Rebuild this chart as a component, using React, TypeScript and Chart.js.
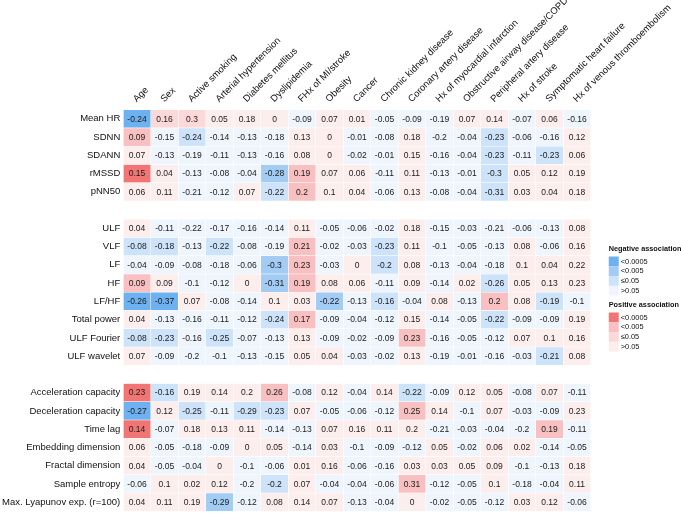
import { useEffect, useRef } from 'react';
import { Chart, registerables } from 'chart.js';
Chart.register(...registerables);

const FONT = 'Arial, "Liberation Sans", Helvetica, sans-serif';

const columns = [
  'Age', 'Sex', 'Active smoking', 'Arterial hypertension', 'Diabetes mellitus', 'Dyslipidemia',
  'FHx of MI/stroke', 'Obesity', 'Cancer', 'Chronic kidney disease', 'Coronary artery disease',
  'Hx of myocardial infarction', 'Obstructive airway disease/COPD', 'Peripheral artery disease',
  'Hx of stroke', 'Symptomatic heart failure', 'Hx of venous thromboembolism',
];

const rowLabels = [
  'Mean HR', 'SDNN', 'SDANN', 'rMSSD', 'pNN50', '',
  'ULF', 'VLF', 'LF', 'HF', 'LF/HF', 'Total power', 'ULF Fourier', 'ULF wavelet', '',
  'Acceleration capacity', 'Deceleration capacity', 'Time lag', 'Embedding dimension',
  'Fractal dimension', 'Sample entropy', 'Max. Lyapunov exp. (r=100)',
];

// correlation coefficients (one array per row)
const meanHR = [-0.24, 0.16, 0.3, 0.05, 0.18, 0, -0.09, 0.07, 0.01, -0.05, -0.09, -0.19, 0.07, 0.14, -0.07, 0.06, -0.16];
const sdnn = [0.09, -0.15, -0.24, -0.14, -0.13, -0.18, 0.13, 0, -0.01, -0.08, 0.18, -0.2, -0.04, -0.23, -0.06, -0.16, 0.12];
const sdann = [0.07, -0.13, -0.19, -0.11, -0.13, -0.16, 0.08, 0, -0.02, -0.01, 0.15, -0.16, -0.04, -0.23, -0.11, -0.23, 0.06];
const rmssd = [0.15, 0.04, -0.13, -0.08, -0.04, -0.28, 0.19, 0.07, 0.06, -0.11, 0.11, -0.13, -0.01, -0.3, 0.05, 0.12, 0.19];
const pnn50 = [0.06, 0.11, -0.21, -0.12, 0.07, -0.22, 0.2, 0.1, 0.04, -0.06, 0.13, -0.08, -0.04, -0.31, 0.03, 0.04, 0.18];
const ulf = [0.04, -0.11, -0.22, -0.17, -0.16, -0.14, 0.11, -0.05, -0.06, -0.02, 0.18, -0.15, -0.03, -0.21, -0.06, -0.13, 0.08];
const vlf = [-0.08, -0.18, -0.13, -0.22, -0.08, -0.19, 0.21, -0.02, -0.03, -0.23, 0.11, -0.1, -0.05, -0.13, 0.08, -0.06, 0.16];
const lf = [-0.04, -0.09, -0.08, -0.18, -0.06, -0.3, 0.23, -0.03, 0, -0.2, 0.08, -0.13, -0.04, -0.18, 0.1, 0.04, 0.22];
const hf = [0.09, 0.09, -0.1, -0.12, 0, -0.31, 0.19, 0.08, 0.06, -0.11, 0.09, -0.14, 0.02, -0.26, 0.05, 0.13, 0.23];
const lfhf = [-0.26, -0.37, 0.07, -0.08, -0.14, 0.1, 0.03, -0.22, -0.13, -0.16, -0.04, 0.08, -0.13, 0.2, 0.08, -0.19, -0.1];
const totalPower = [0.04, -0.13, -0.16, -0.11, -0.12, -0.24, 0.17, -0.09, -0.04, -0.12, 0.15, -0.14, -0.05, -0.22, -0.09, -0.09, 0.19];
const ulfFourier = [-0.08, -0.23, -0.16, -0.25, -0.07, -0.13, 0.13, -0.09, -0.02, -0.09, 0.23, -0.16, -0.05, -0.12, 0.07, 0.1, 0.16];
const ulfWavelet = [0.07, -0.09, -0.2, -0.1, -0.13, -0.15, 0.05, 0.04, -0.03, -0.02, 0.13, -0.19, -0.01, -0.16, -0.03, -0.21, 0.08];
const accCap = [0.23, -0.16, 0.19, 0.14, 0.2, 0.26, -0.08, 0.12, -0.04, 0.14, -0.22, -0.09, 0.12, 0.05, -0.08, 0.07, -0.11];
const decCap = [-0.27, 0.12, -0.25, -0.11, -0.29, -0.23, 0.07, -0.05, -0.06, -0.12, 0.25, 0.14, -0.1, 0.07, -0.03, -0.09, 0.23];
const timeLag = [0.14, -0.07, 0.18, 0.13, 0.11, -0.14, -0.13, 0.07, 0.16, 0.11, 0.2, -0.21, -0.03, -0.04, -0.2, 0.19, -0.11];
const embDim = [0.06, -0.05, -0.18, -0.09, 0, 0.05, -0.14, 0.03, -0.1, -0.09, -0.12, 0.05, -0.02, 0.06, 0.02, -0.14, -0.05];
const fracDim = [0.04, -0.05, -0.04, 0, -0.1, -0.06, 0.01, 0.16, -0.06, -0.16, 0.03, 0.03, 0.05, 0.09, -0.1, -0.13, 0.18];
const sampEn = [-0.06, 0.1, 0.02, 0.12, -0.2, -0.2, 0.07, -0.04, -0.04, -0.06, 0.31, -0.12, -0.05, 0.1, -0.18, -0.04, 0.11];
const maxLyap = [0.04, 0.11, 0.19, -0.29, -0.12, 0.08, 0.14, 0.07, -0.13, -0.04, 0, -0.02, -0.05, -0.12, 0.03, 0.12, -0.06];

// significance class: 0 = >0.05, 1 = <=0.05, 2 = <0.005, 3 = <0.0005
const sigMeanHR = [3, 1, 1, 0, 0, 0, 0, 0, 0, 0, 0, 0, 0, 0, 0, 0, 0];
const sigSdnn = [2, 0, 1, 0, 0, 0, 0, 0, 0, 0, 0, 0, 0, 1, 0, 0, 0];
const sigSdann = [0, 0, 0, 0, 0, 0, 0, 0, 0, 0, 0, 0, 0, 1, 0, 1, 0];
const sigRmssd = [3, 0, 0, 0, 0, 2, 2, 0, 0, 0, 0, 0, 0, 1, 0, 0, 0];
const sigPnn50 = [0, 0, 0, 0, 0, 1, 2, 0, 0, 0, 0, 0, 0, 1, 0, 0, 0];
const sigUlf = [0, 0, 0, 0, 0, 0, 0, 0, 0, 0, 0, 0, 0, 0, 0, 0, 0];
const sigVlf = [1, 1, 0, 1, 0, 0, 2, 0, 0, 1, 0, 0, 0, 0, 0, 0, 0];
const sigLf = [0, 0, 0, 0, 0, 2, 2, 0, 0, 1, 0, 0, 0, 0, 0, 0, 0];
const sigHf = [2, 0, 0, 0, 0, 2, 2, 0, 0, 0, 0, 0, 0, 1, 0, 0, 0];
const sigLfhf = [3, 3, 0, 0, 0, 0, 0, 2, 0, 1, 0, 0, 0, 2, 0, 1, 0];
const sigTotalPower = [0, 0, 0, 0, 0, 1, 2, 0, 0, 0, 0, 0, 0, 1, 0, 0, 0];
const sigUlfFourier = [1, 1, 0, 1, 0, 0, 0, 0, 0, 0, 2, 0, 0, 0, 0, 0, 0];
const sigUlfWavelet = [0, 0, 0, 0, 0, 0, 0, 0, 0, 0, 0, 0, 0, 0, 0, 1, 0];
const sigAccCap = [3, 1, 0, 0, 0, 2, 0, 0, 0, 0, 1, 0, 0, 0, 0, 0, 0];
const sigDecCap = [3, 0, 1, 0, 1, 1, 0, 0, 0, 0, 2, 0, 0, 0, 0, 0, 0];
const sigTimeLag = [3, 0, 0, 0, 0, 0, 0, 0, 0, 0, 0, 0, 0, 0, 0, 2, 0];
const sigEmbDim = [0, 0, 0, 0, 0, 0, 0, 0, 0, 0, 0, 0, 0, 0, 0, 0, 0];
const sigFracDim = [0, 0, 0, 0, 0, 0, 0, 0, 0, 0, 0, 0, 0, 0, 0, 0, 0];
const sigSampEn = [0, 0, 0, 0, 0, 1, 0, 0, 0, 0, 2, 0, 0, 0, 0, 0, 0];
const sigMaxLyap = [0, 0, 0, 2, 0, 0, 0, 0, 0, 0, 0, 0, 0, 0, 0, 0, 0];

const legendLabels = ['<0.0005', '<0.005', '\u22640.05', '>0.05'];

const BLUE = ['#eef5fd', '#cde3f9', '#a3ccf4', '#6eb1f0'];
const RED = ['#fdeeee', '#fcd8d8', '#f8c0c0', '#f27575'];

// rows in display order (null = spacer)
const rowValues: (number[] | null)[] = [
  meanHR, sdnn, sdann, rmssd, pnn50, null,
  ulf, vlf, lf, hf, lfhf, totalPower, ulfFourier, ulfWavelet, null,
  accCap, decCap, timeLag, embDim, fracDim, sampEn, maxLyap,
];
const rowSig: (number[] | null)[] = [
  sigMeanHR, sigSdnn, sigSdann, sigRmssd, sigPnn50, null,
  sigUlf, sigVlf, sigLf, sigHf, sigLfhf, sigTotalPower, sigUlfFourier, sigUlfWavelet, null,
  sigAccCap, sigDecCap, sigTimeLag, sigEmbDim, sigFracDim, sigSampEn, sigMaxLyap,
];

const cellColor = (v: number, s: number) => (v < 0 ? BLUE[s] : RED[s]);

const cellText = {
  id: 'cellText',
  afterDatasetsDraw(chart: any) {
    const ctx = chart.ctx;
    ctx.save();
    ctx.font = `8.5px ${FONT}`;
    ctx.fillStyle = '#1a1a1a';
    ctx.textAlign = 'center';
    ctx.textBaseline = 'middle';
    chart.data.datasets.forEach((ds: any, di: number) => {
      const meta = chart.getDatasetMeta(di);
      meta.data.forEach((el: any, i: number) => {
        const v = ds.values[i];
        if (v === null || v === undefined) return;
        const p = el.getCenterPoint();
        ctx.fillText(String(v), p.x, p.y + 0.5);
      });
    });
    ctx.restore();
  },
};

const sigLegend = {
  id: 'sigLegend',
  afterDraw(chart: any) {
    const ctx = chart.ctx;
    const x0 = chart.chartArea.right + 18;
    const groups = [
      { title: 'Negative association', colors: [...BLUE].reverse(), top: 249 },
      { title: 'Positive association', colors: [...RED].reverse(), top: 305 },
    ];
    ctx.save();
    groups.forEach((g) => {
      ctx.font = `bold 7.3px ${FONT}`;
      ctx.fillStyle = '#111';
      ctx.textAlign = 'left';
      ctx.textBaseline = 'middle';
      ctx.fillText(g.title, x0, g.top);
      g.colors.forEach((c, i) => {
        const y = g.top + 7.5 + i * 9.8;
        ctx.fillStyle = c;
        ctx.fillRect(x0, y, 10, 9.8);
        ctx.fillStyle = '#111';
        ctx.font = `7.4px ${FONT}`;
        ctx.fillText(legendLabels[i], x0 + 12, y + 5);
      });
    });
    ctx.restore();
  },
};

export default function App() {
  const ref = useRef<HTMLCanvasElement>(null);
  useEffect(() => {
    if (!ref.current) return;
    const datasets = columns.map((col, c) => ({
      label: col,
      data: rowValues.map((r) => (r ? [c, c + 1] : null)),
      values: rowValues.map((r) => (r ? r[c] : null)),
      backgroundColor: rowValues.map((r, ri) => (r ? cellColor(r[c], (rowSig[ri] as number[])[c]) : 'rgba(0,0,0,0)')),
      borderColor: '#ffffff',
      borderWidth: 0.6,
      borderSkipped: false,
      grouped: false,
      barPercentage: 1,
      categoryPercentage: 1,
    }));
    const chart = new Chart(ref.current, {
      type: 'bar',
      data: { labels: rowLabels, datasets: datasets as any },
      plugins: [cellText, sigLegend],
      options: {
        indexAxis: 'y',
        animation: false,
        responsive: false,
        maintainAspectRatio: false,
        layout: { padding: { left: 0, top: 0, right: 90.25, bottom: 0.7 } },
        plugins: { legend: { display: false }, tooltip: { enabled: false } },
        scales: {
          x: { type: 'linear', min: 0, max: 17, display: false },
          xTop: {
            type: 'category',
            labels: columns,
            position: 'top',
            offset: true,
            grid: { display: false, drawTicks: false },
            border: { display: false },
            ticks: {
              autoSkip: false,
              minRotation: 45,
              maxRotation: 45,
              padding: 5,
              labelOffset: 6,
              color: '#111',
              font: { size: 9.5, family: FONT },
            },
            afterFit: (s: any) => { s.height = 109.7; },
          },
          y: {
            type: 'category',
            offset: true,
            grid: { display: false, drawTicks: false },
            border: { display: false },
            ticks: {
              autoSkip: false,
              padding: 3,
              color: '#111',
              font: { size: 9.5, family: FONT },
            },
            afterFit: (s: any) => { s.width = 123.25; },
          },
        } as any,
      },
    });
    return () => chart.destroy();
  }, []);
  return (
    <div style={{ position: 'absolute', left: 0, top: 0, width: 681, height: 518, overflow: 'hidden', background: '#fff' }}>
      <canvas ref={ref} width={681} height={520} style={{ display: 'block', width: 681, height: 520 }} />
    </div>
  );
}
